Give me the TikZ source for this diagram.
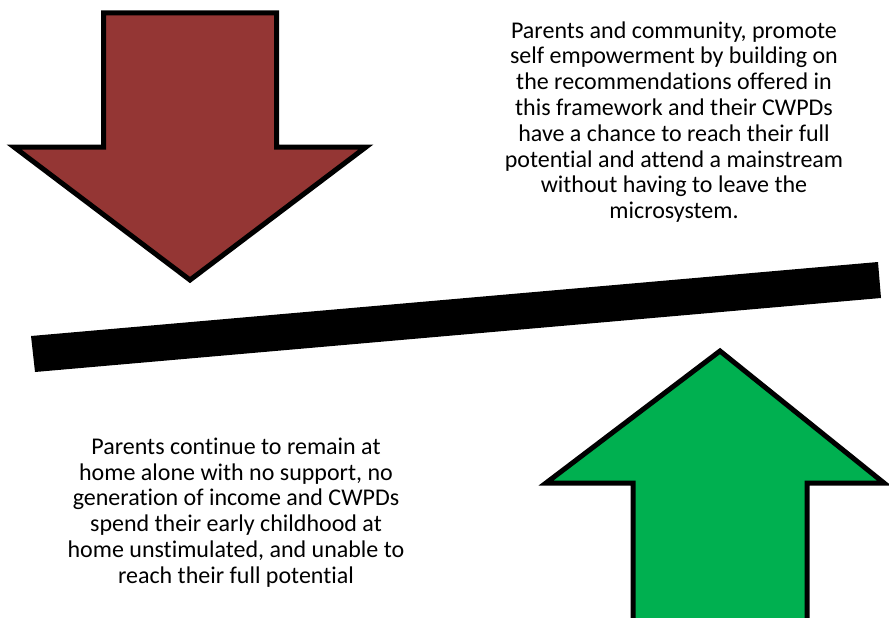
\documentclass[tikz,border=0pt]{standalone}
\usepackage{fontspec}
\setmainfont[Ligatures=NoCommon]{Carlito}
\definecolor{downred}{HTML}{943634}
\definecolor{upgreen}{HTML}{00B050}
\tikzset{
big arrow/.style={draw=black, line width=5pt, miter limit=20, line join=miter},
note/.style={inner sep=0pt, align=center, font=\fontsize{24}{25.8}\selectfont},
}

\begin{document}
\begin{tikzpicture}[x=1pt, y=-1pt]
\useasboundingbox (0,0) rectangle (889,618);

% arrow pointing down
\draw[big arrow, fill=downred] (103.5,13) -- (276.5,13) -- (276.5,147) -- (366,147) -- (190,280) -- (14,147) -- (103.5,147) -- cycle;

% arrow pointing up
\draw[big arrow, fill=upgreen] (633,625) -- (633,483) -- (546,483) -- (720,351) -- (884,483) -- (807,483) -- (807,625) -- cycle;

% the bar
\fill[black] (31,336) -- (878,262) -- (881,298) -- (35,372) -- cycle;

\node[note] (good) at (674,122) {Parents and community, promote\\self empowerment by building on\\the recommendations offered in\\this framework and their CWPDs\\have a chance to reach their full\\potential and attend a mainstream\\without having to leave the\\microsystem.};
\node[note] (bad) at (236,512.5) {Parents continue to remain at\\home alone with no support, no\\generation of income and CWPDs\\spend their early childhood at\\home unstimulated, and unable to\\reach their full potential};
\end{tikzpicture}
\end{document}
